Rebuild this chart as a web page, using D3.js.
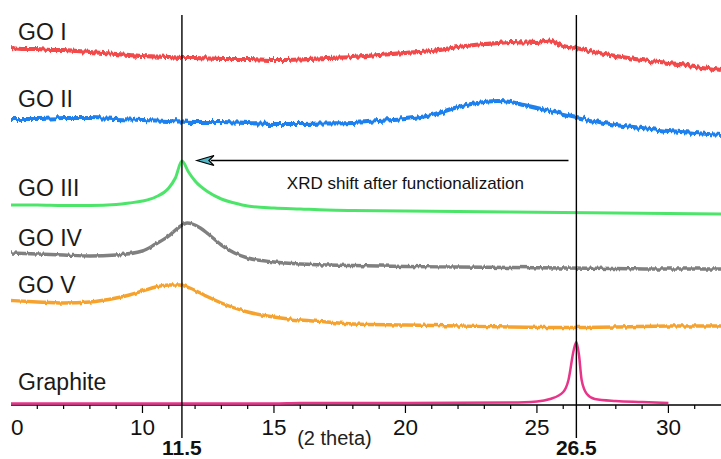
<!DOCTYPE html>
<html><head><meta charset="utf-8">
<script src="https://cdn.jsdelivr.net/npm/d3@7"></script>
<style>body{margin:0;background:#fff}svg{display:block}text{font-family:"Liberation Sans",Arial,Helvetica,sans-serif}</style>
</head><body>
<svg id="c" width="721" height="459"></svg>
<script>
// 2-theta (deg) and intensity (a.u., stacked offsets)
const goI = [[5,357],[5.5,356],[6,356],[6.5,355],[7,355],[7.5,354],[8,353],[8.5,352],[9,351],[9.5,350],[10,349],[10.5,348.5],[11,348],[11.5,347],[12,347],[12.5,346.5],[13,346],[14,346],[15,345],[16,345.5],[17,347],[18,348],[19,350],[20,352],[21,354],[22,358],[23,361],[23.5,362],[24,363],[24.5,362.5],[25,362],[25.3,364],[25.5,364.5],[25.7,362],[26,359],[26.5,357],[27,354],[28,349],[29,345],[30,342],[31,339],[32,335]];
const goII = [[5,286],[6,286],[7,287],[8,287],[9,286],[10,285],[11,284],[12,283],[13,283],[14,282],[15,281],[16,281],[17,281.5],[18,282],[19,284],[20,286],[21,290],[22,298],[22.5,301],[23,303],[23.5,304],[24,303],[24.5,300],[25,297],[26,291],[26.5,288],[27,285],[28,280],[29,277],[30,274],[31,272],[32,270]];
const goIII = [[5,200],[6,200],[7,199.5],[8,199.5],[9,200.5],[9.5,202],[10,204],[10.5,208],[11,217],[11.25,227],[11.5,244],[11.75,233],[12,224],[12.5,213],[13,206],[13.5,202],[14,199],[15,197],[16,196],[17,195],[18,194.5],[20,194],[22,193.5],[24,193],[26,192.5],[28,192],[30,191.5],[32,191]];
const goIV = [[5,152],[6,151],[7,150],[8,149],[9,150],[10,154],[10.5,161],[11,169],[11.4,178],[11.7,182],[11.9,181],[12.2,177],[12.5,171],[13,160],[13.5,152],[14,147],[15,143],[16,141],[18,139.5],[20,138.5],[22,138],[24,137.5],[26,137],[28,136.5],[30,136],[32,136]];
const goV = [[5,104.5],[6,103],[7,102],[8,103],[9,107],[9.5,110],[10,114],[10.5,118],[11,120],[11.4,120],[11.8,117],[12.2,112],[12.5,108],[13,102],[13.5,97],[14,93],[15,88],[16,85],[17,83],[18,81],[20,80],[22,79],[24,78],[26,77.5],[28,78],[30,79],[32,79]];
const graphite = [[5,1.5],[10,1.5],[15,1.5],[16,2],[20,2],[24,2.5],[25,3.5],[25.5,6],[26,13],[26.2,25],[26.4,55],[26.5,63],[26.6,50],[26.7,25],[26.9,11],[27.2,6],[28,4],[29,3],[30,2]];
const seriesNames = ["GO I","GO II","GO III","GO IV","GO V","Graphite"];
const seriesLabelY = [365,298,209,159,112,15];
const majorTicks = [5,10,15,20,25,30];
const majorLabels = ["0","10","15","20","25","30"];
const minorTicks = [6,7,8,9,11,12,13,14,16,17,18,19,21,22,23,24,26,27,28,29,31];
const markLines = [11.5,26.5];
const arrowFromTo = [26.2,12.07];
const arrowY = 244.5;

const svg = d3.select("#c");
const x = d3.scaleLinear().domain([5,32]).range([11,721]);
const y = d3.scaleLinear().domain([0,400]).range([405,5]);

const defs = svg.append("defs");
function noiseFilter(id, scale, freq, seed){
  const f = defs.append("filter").attr("id",id).attr("filterUnits","userSpaceOnUse")
    .attr("x",0).attr("y",0).attr("width",721).attr("height",459);
  f.append("feTurbulence").attr("type","fractalNoise").attr("baseFrequency",freq).attr("numOctaves",2).attr("seed",seed).attr("result","n");
  f.append("feColorMatrix").attr("in","n").attr("type","matrix")
    .attr("values","0 0 0 0 0.5  0 1 0 0 0  0 0 0 0 0.5  0 0 0 0 1").attr("result","m");
  f.append("feDisplacementMap").attr("in","SourceGraphic").attr("in2","m").attr("scale",scale).attr("xChannelSelector","R").attr("yChannelSelector","G");
}
noiseFilter("nz1",6,"0.4 0.02",3);
noiseFilter("nz2",3.5,"0.4 0.02",5);
defs.append("clipPath").attr("id","plot").append("rect").attr("x",11).attr("y",0).attr("width",710).attr("height",459);

const colors = ["#f2484b","#1c80ee","#4ce56a","#808080","#f6a22e","#e8358a"];
const widths = [4.2,4.2,3.0,3.4,3.4,2.5];
const filters = ["nz1","nz1",null,"nz2","nz2",null];
const all = [goI,goII,goIII,goIV,goV,graphite];
const line = d3.line().x(d=>x(d[0])).y(d=>y(d[1])).curve(d3.curveMonotoneX);

// axis
const ax = svg.append("g").attr("transform","translate(0,405)");
ax.append("line").attr("x1",x(5)).attr("x2",721).attr("stroke","#000").attr("stroke-width",1.5);
ax.selectAll("line.mi").data(minorTicks).join("line").attr("class","mi")
  .attr("x1",d=>x(d)).attr("x2",d=>x(d)).attr("y1",0).attr("y2",4).attr("stroke","#000").attr("stroke-width",1.2);
ax.selectAll("line.ma").data(majorTicks.slice(1)).join("line").attr("class","ma")
  .attr("x1",d=>x(d)).attr("x2",d=>x(d)).attr("y1",0).attr("y2",8).attr("stroke","#000").attr("stroke-width",1.2);
ax.selectAll("text.tl").data(majorTicks).join("text").attr("class","tl")
  .attr("x",d=>x(d)).attr("y",30)
  .attr("text-anchor",(d,i)=>i===0?"start":"middle")
  .attr("font-size",22.5).attr("fill","#111").text((d,i)=>majorLabels[i]);

// curves
const g = svg.append("g").attr("clip-path","url(#plot)");
all.forEach((s,i)=>{
  const p = g.append("path").datum(s).attr("d",line).attr("fill","none")
    .attr("stroke",colors[i]).attr("stroke-width",widths[i]).attr("stroke-linejoin","round");
  if(filters[i]) p.attr("filter",`url(#${filters[i]})`);
});

// vertical reference lines
svg.selectAll("line.vl").data(markLines).join("line").attr("class","vl")
  .attr("x1",d=>x(d)).attr("x2",d=>x(d)).attr("y1",15).attr("y2",438)
  .attr("stroke","#000").attr("stroke-width",1.4);
svg.selectAll("text.vt").data(markLines).join("text").attr("class","vt")
  .attr("x",d=>x(d)).attr("y",455).attr("text-anchor","middle")
  .attr("font-size",21).attr("font-weight","bold").attr("fill","#111").text(d=>d);

svg.append("text").attr("x",x(17.3)).attr("y",445).attr("text-anchor","middle")
  .attr("font-size",20).attr("fill","#222").text("(2 theta)");

// series labels
svg.selectAll("text.sl").data(seriesNames).join("text").attr("class","sl")
  .attr("x",18).attr("y",(d,i)=>y(seriesLabelY[i])).attr("font-size",23).attr("fill","#1a1a1a").text(d=>d);

// arrow
const ay = y(arrowY);
const x0 = x(arrowFromTo[0]), x1 = x(arrowFromTo[1]);
svg.append("line").attr("x1",x0).attr("x2",x1+14).attr("y1",ay).attr("y2",ay).attr("stroke","#000").attr("stroke-width",1.6);
svg.append("path").attr("d",`M${x1},${ay} L${x1+17},${ay-5} L${x1+12},${ay} L${x1+17},${ay+5} Z`)
  .attr("fill","#4fb8c8").attr("stroke","#000").attr("stroke-width",1.2).attr("stroke-linejoin","miter");
svg.append("text").attr("x",x(20)).attr("y",ay+28).attr("text-anchor","middle")
  .attr("font-size",17).attr("fill","#111").text("XRD shift after functionalization");
</script>
</body></html>
